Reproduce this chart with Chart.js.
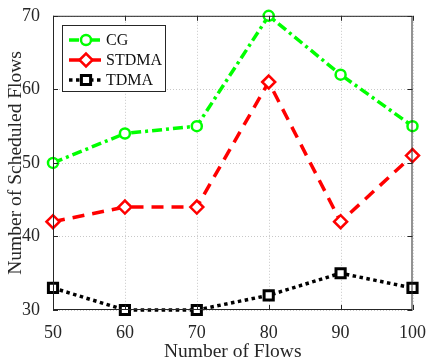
<!DOCTYPE html>
<html><head><meta charset="utf-8">
<script src="https://cdn.jsdelivr.net/npm/chart.js@4"></script>
<style>html,body{margin:0;padding:0;background:#fff}#wrap{width:430px;height:364px}</style>
</head><body><div id="wrap"><canvas id="c" width="430" height="364"></canvas></div>
<script>
const flows = [50, 60, 70, 80, 90, 100];
const cg = [50, 54, 55, 70, 62, 55];
const stdma = [42, 44, 44, 61, 42, 51];
const tdma = [33, 30, 30, 32, 35, 33];
const xTicks = [50, 60, 70, 80, 90, 100];
const yTicks = [30, 40, 50, 60, 70];

const FONT = "'Liberation Serif', 'Times New Roman', serif";

function pts(arr){ return arr.map((v,i)=>({x: flows[i], y: v})); }

const boxPlugin = {
  id: 'box',
  beforeDatasetsDraw(chart){
    const {ctx, chartArea: a, scales} = chart;
    ctx.save();
    ctx.strokeStyle = '#c8c8c8';
    ctx.lineWidth = 1;
    ctx.setLineDash([1, 2]);
    ctx.beginPath();
    xTicks.forEach(t=>{
      const x = Math.round(scales.x.getPixelForValue(t))+0.5;
      ctx.moveTo(x, a.top); ctx.lineTo(x, a.bottom);
    });
    yTicks.forEach(t=>{
      const y = Math.round(scales.y.getPixelForValue(t))+0.5;
      ctx.moveTo(a.left, y); ctx.lineTo(a.right, y);
    });
    ctx.stroke();
    ctx.restore();
  },
  afterDatasetsDraw(chart){
    const {ctx, chartArea: a, scales} = chart;
    ctx.save();
    ctx.strokeStyle = '#262626';
    ctx.lineWidth = 1;
    ctx.setLineDash([]);
    ctx.strokeRect(a.left+0.5, a.top+0.5, a.right-a.left-1, a.bottom-a.top-1);
    const L = 5;
    ctx.beginPath();
    xTicks.forEach(t=>{
      const x = Math.round(scales.x.getPixelForValue(t))+0.5;
      ctx.moveTo(x, a.bottom); ctx.lineTo(x, a.bottom-L);
      ctx.moveTo(x, a.top); ctx.lineTo(x, a.top+L);
    });
    yTicks.forEach(t=>{
      const y = Math.round(scales.y.getPixelForValue(t))+0.5;
      ctx.moveTo(a.left, y); ctx.lineTo(a.left+L, y);
      ctx.moveTo(a.right, y); ctx.lineTo(a.right-L, y);
    });
    ctx.stroke();
    ctx.restore();
  },
  afterDraw(chart){
    const {ctx} = chart;
    const ds = chart.data.datasets;
    ctx.save();
    const bx = 62, by = 25, bw = 103, bh = 66;
    ctx.fillStyle = '#fff';
    ctx.fillRect(bx, by, bw, bh);
    ctx.strokeStyle = '#262626';
    ctx.lineWidth = 1;
    ctx.strokeRect(bx+0.5, by+0.5, bw, bh);
    ds.forEach((d, i)=>{
      const y = by + 15 + i*20;
      ctx.strokeStyle = d.borderColor;
      ctx.lineWidth = d.borderWidth;
      ctx.setLineDash(d.borderDash || []);
      ctx.beginPath(); ctx.moveTo(bx+7, y); ctx.lineTo(bx+40, y); ctx.stroke();
      ctx.setLineDash([]);
      ctx.fillStyle = '#fff';
      ctx.strokeStyle = d.borderColor;
      ctx.lineWidth = d.pointBorderWidth;
      Chart.helpers.drawPoint(ctx, {pointStyle: d.pointStyle, radius: d.pointRadius, rotation: 0, borderWidth: d.pointBorderWidth}, bx+24, y);
      ctx.fillStyle = '#111';
      ctx.font = '16px ' + FONT;
      ctx.textBaseline = 'middle';
      ctx.fillText(d.label, bx+44, y+1);
    });
    ctx.restore();
  }
};

new Chart(document.getElementById('c'), {
  type: 'line',
  data: {
    datasets: [
      { label: 'CG', data: pts(cg), borderColor: '#00FF00', backgroundColor: '#fff', clip: false,
        borderWidth: 3.5, borderDash: [10, 4, 3, 4], pointStyle: 'circle', pointRadius: 5,
        pointBorderWidth: 2.5, pointBackgroundColor: '#fff', pointBorderColor: '#00FF00' },
      { label: 'STDMA', data: pts(stdma), borderColor: '#FF0000', backgroundColor: '#fff', clip: false,
        borderWidth: 3.5, borderDash: [12, 8], pointStyle: 'rectRot', pointRadius: 6.5,
        pointBorderWidth: 2.5, pointBackgroundColor: '#fff', pointBorderColor: '#FF0000' },
      { label: 'TDMA', data: pts(tdma), borderColor: '#000000', backgroundColor: '#fff', clip: false,
        borderWidth: 3.5, borderDash: [3.5, 3.5], pointStyle: 'rect', pointRadius: 6.5,
        pointBorderWidth: 3, pointBackgroundColor: '#fff', pointBorderColor: '#000' }
    ]
  },
  options: {
    responsive: false, animation: false, devicePixelRatio: 1,
    layout: { padding: { top: 14, right: 14, left: 0, bottom: 0 } },
    plugins: { legend: { display: false }, tooltip: { enabled: false } },
    scales: {
      x: {
        type: 'linear', min: 50, max: 100,
        afterBuildTicks(s){ s.ticks = xTicks.map(v=>({value:v})); },
        afterFit(s){ s.height = 54; },
        grid: { display: false },
        border: { display: false },
        ticks: { color: '#262626', font: { family: FONT, size: 18 }, padding: 4, maxRotation: 0 },
        title: { display: true, text: 'Number of Flows', color: '#262626', font: { family: FONT, size: 19.5 }, padding: { top: 0, bottom: 0 } }
      },
      y: {
        type: 'linear', min: 30, max: 70,
        afterBuildTicks(s){ s.ticks = yTicks.map(v=>({value:v})); },
        afterFit(s){ s.width = 53; },
        grid: { display: false },
        border: { display: false },
        ticks: { color: '#262626', font: { family: FONT, size: 18 }, padding: 5 },
        title: { display: true, text: 'Number of Scheduled Flows', color: '#262626', font: { family: FONT, size: 19.5 }, padding: { top: 4, bottom: 0 } }
      }
    }
  },
  plugins: [boxPlugin]
});
</script>
</body></html>
